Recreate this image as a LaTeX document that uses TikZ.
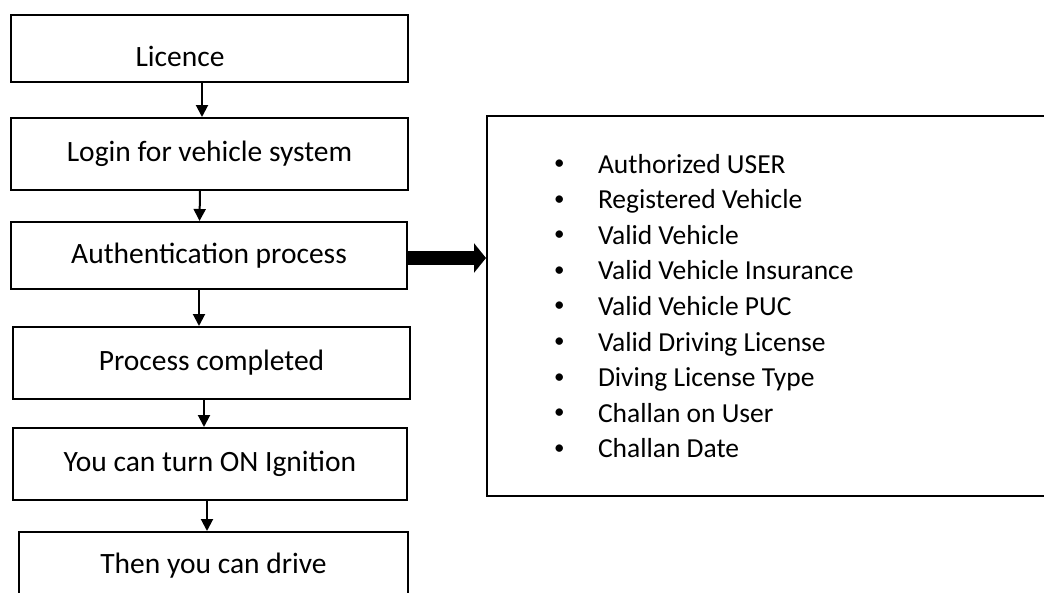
\documentclass[tikz,border=0pt]{standalone}
\usepackage{fontspec}
\setmainfont{Carlito}
\usetikzlibrary{arrows.meta,positioning}

\begin{document}
\begin{tikzpicture}[x=1pt, y=-1pt, ->, >={Triangle[length=12pt,width=12pt]}, line width=2pt,
    box/.style={draw, rectangle, inner sep=0pt, font=\fontsize{29.5}{34}\selectfont, minimum width=397pt, minimum height=72pt},
    item/.style={anchor=base west, inner sep=0pt, font=\fontsize{27.5}{32}\selectfont},
    bigarrow/.style={-{Triangle[length=12pt,width=29pt]}, line width=14pt}]
\path[use as bounding box, clip] (0,0) rectangle (1044,592);
\begin{scope}
    \node [box, minimum height=67pt] (lic) at (209.5,48.5) {};
    \node [anchor=base, inner sep=0pt, font=\fontsize{29.5}{34}\selectfont] (lictext) at (180,66) {Licence};
    \node [box] (login) at (209.5,154) {Login for vehicle system};
    \node [box, minimum width=396pt, minimum height=67pt] (auth) at (209,255.5) {Authentication process};
    \node [box] (proc) at (211.5,363) {Process completed};
    \node [box, minimum width=394pt] (ign) at (210,464) {You can turn ON Ignition};
    \node [box, minimum width=389pt, minimum height=68pt] (drive) at (213.5,566) {Then you can drive};
    \node [box, minimum width=563pt, minimum height=380pt] (checks) at (768.5,305.7) {};

    \draw ([xshift=-7.5pt]lic.south) -- ([xshift=-7.5pt]login.north);
    \draw ([xshift=-9.5pt]login.south) -- ([xshift=-9.5pt]auth.north);
    \draw ([xshift=-10pt]auth.south) -- ([xshift=-12.5pt]proc.north);
    \draw ([xshift=-7.5pt]proc.south) -- ([xshift=-6pt]ign.north);
    \draw ([xshift=-3pt]ign.south) -- ([xshift=-6.5pt]drive.north);

    \coordinate (tail) at ([yshift=-2.5pt]auth.east);
    \draw [bigarrow] (tail) -- (tail -| checks.west);

    \foreach \txt [count=\i] in {Authorized USER, Registered Vehicle, Valid Vehicle,
        Valid Vehicle Insurance, Valid Vehicle PUC, Valid Driving License,
        Diving License Type, Challan on User, Challan Date}
        \node [item] (item\i) at (553, 137.4+35.6*\i)
            {\makebox[44pt][l]{\raisebox{3.5pt}{\fontsize{21}{21}\selectfont\textbullet}}\txt};
\end{scope}
\end{tikzpicture}
\end{document}
